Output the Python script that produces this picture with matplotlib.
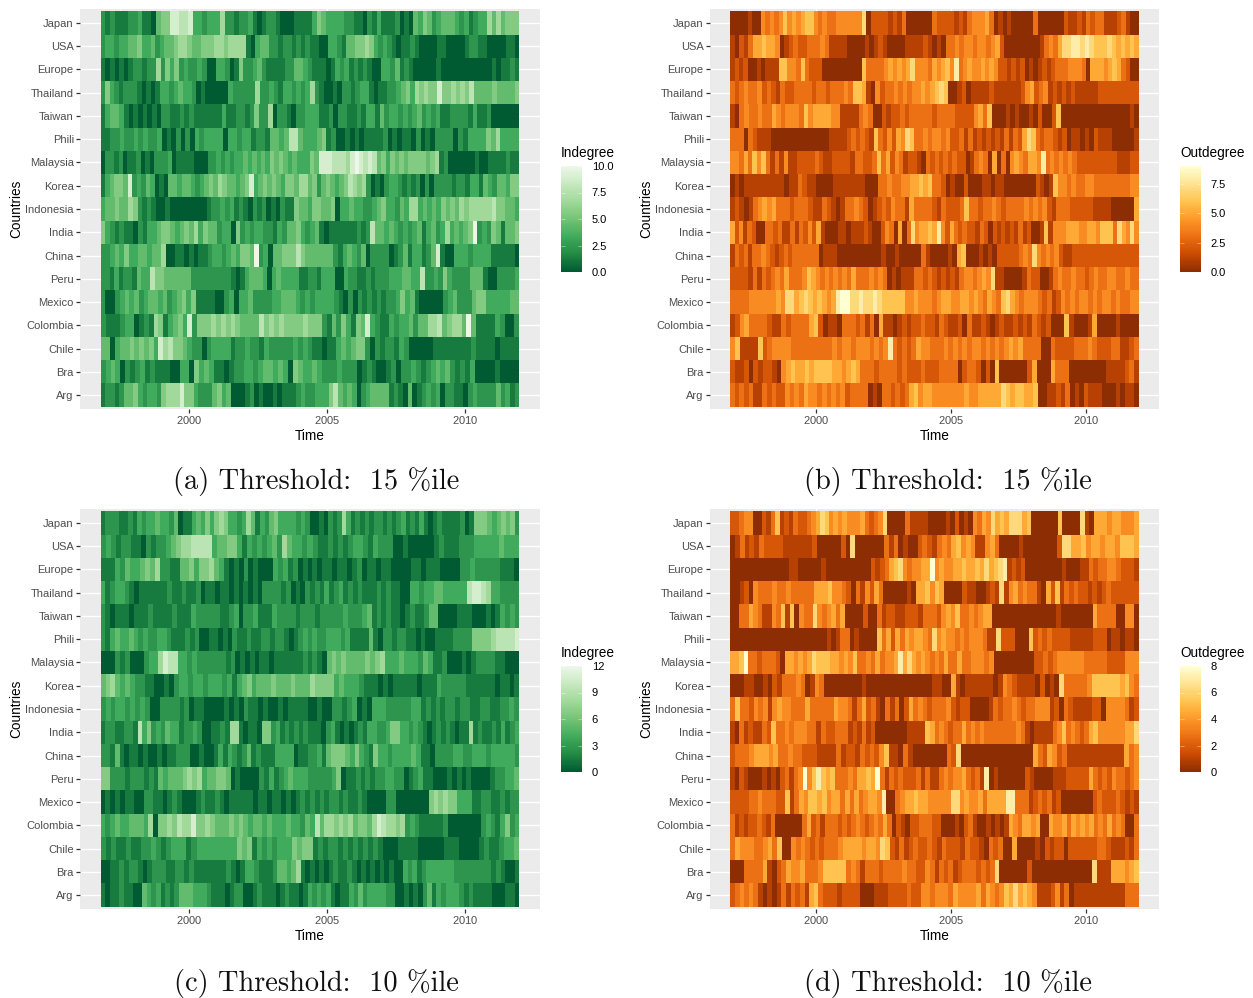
# filename: plot.py

import numpy as np
import matplotlib
matplotlib.use('Agg')
import matplotlib.pyplot as plt
from matplotlib.colors import LinearSegmentedColormap

plt.rcParams['font.family'] = ['Liberation Sans', 'DejaVu Sans']
plt.rcParams['axes.formatter.use_mathtext'] = True

countries = ['Arg', 'Bra', 'Chile', 'Colombia', 'Mexico', 'Peru', 'China', 'India', 'Indonesia',
             'Korea', 'Malaysia', 'Phili', 'Taiwan', 'Thailand', 'Europe', 'USA', 'Japan']
years = [2000, 2005, 2010]
minor_years = [1997.5, 2002.5, 2007.5, 2012.5]

# Each row runs from Japan (top) to Arg (bottom), one digit for about every two months.
# A digit is a shade: 0 is the bottom of the legend, 9 the top.
indegree_15 = [
    "2121112231104558877833233362212231012210001111" "354333322110213111201043542344432312336464555",
    "23323344533423445665445556656666103442212212121" "100332144556532321011210000110000122110000110",
    "1010101221226253523223200332015223421111224432 11" "101323121210033241210000010000000000010112 1",
    "253212221010133234332010000032222262232133232362" "100102212331011223453656558556565744445444 45",
    "134431010101022112121111113112212522602210223 3" "3112022112133142332323423231122221311 2000000",
    "1122322323223010202032333 30332331221443477433" "34512001010111120101102010222202133335463333",
    "0 2212 0112 010 2223 01 111 000 2232 323 3434 343 54543 43335" "4 88877768 9 87 87 45354 54555 545 6 120 00000 100 11112 11",
    "13 4554 8 232 43 010 44344 323 45465 44345 8 34 5454 3554664" "52 454345 7656 20102 332 1212 020 2222 1221 3314 32443 55",
    "34454465 2121 001 00000000 122 323 1210 212010 211 5443" "55445 0 3343 3223 453 3243 66 34 34354 54656 6666 7554 43",
    "53 2121 102 133 4554 34546 35 44 2330 52 32332 2132 44532 34" "1011 1111 212 7 44343 2323 41 34 2363 4345 9 232 541 445",
    "223 43 533 443446 00 11 010 11 2332 343 554 9 23 0 44555 7544" "4444 213 43 24 0 2222 01 2413 3124 8 100 3332 3333 11111 0",
    "2213 1221 433 7 554 44444 2222 222 22101 34443 0 3433 33 1" "1 2213 33 00 32211 21 2223 334433 7 2232 5 3 2222 444 100 2222 3",
    "2 00 23 43 423 44 3423 4535 1111 00 230 334 2222 33444 3232" "3 333 2102 021 212 1223 534 1 0000 02 34222 4553 3333 44",
    "21 11 233 01 21 65 13 453 8 25 556 565 65 4444 7 5656 5555 655" "5 21 42 5 31 54 8 32 1132 3342 44 667 45664 9 4 1111 32 00 2",
    "44 0 34 454 5453 8 67 554 3220 233 33 122 32 213 22222 323" "21 1 011 3434 55 20 212 2132 000001 11111 112 1111 0 1111",
    "23 43 0212 312 1110 0330 5 343 11 01 223 323 44343 0543" "343 2223 222 01 21 00 12 0 223 2123 4342 121 3 0 000 1 0000",
    "12212 4453 2332 5666 8 55 3222 453 40 001 2010010 1112 32" "233 35 7 4343 02 34444 1210 4 012 32302 211 02 3 2222 42 312",
]
outdegree_15 = [
    "0000 100 43434 6 4545 66 434 3344 4444 7 0 2222 1213 000000 32222 1213 4445 30 101 00000 3 000000 2 1121 3233 1112 3100",
    "10213 556554 01 232233 343 1111 0000 101 21 0000 1111 21010 33434434434 52 00000000 1 3435 7788787666 7656565",
    "12120 010111 66 443 63 222 00000000 0 6 3333 454545 7 4443 54564 8 34544 5454 2212 12010 1212 3334 443 0 5554565 3200",
    "323433 4232132 2333323 32333 43 665 10 42 3343434 4545676 00 1201 1112 1111 112 45 234 121212 11111 222222222",
    "10 343 3433 5 434443 6455 5544 1111 343 00 21 223233 333233332222 4536 00 010100 10 2 00 2 6 0000000 00000000 10",
    "333 0 32 111 0000000000000 1111 232321 6 3242 54 76 33434434 223 1312 12121 3132 576 3233 21201 10102 111 00000 1",
    "443 53646 31314 1122 22321 122221 33223 635 2431221 0323 232322 01 34305 030 4543554 8 3434343 2222 22222 11122",
    "010 11 1111111 011 32 110 000 1111111 000 3343344 556563 3201 002 000 110110 000000 21016 4434 3344 3333333344",
    "12101 34545 333 2333 21132101 33432 01 232433 1533332 132223 6 33233 43233 33434342 1333 22222 1111 00000 5",
    "524132 00 33231 1313242 51 000 1101 1121 00 2430 503 745565 8 42 53 2322132 02121 21312 001 61 44455544 554 666 375474",
    "13231 33432 1232 333333 0111 0000 00000 0100100000 31 000010 56 000 1010 22 222 343 7 43434 211 222222222222222",
    "2222 13132 343 53334 654 34343 4353 334343 0101 11 33232 121213 443454 7 11 0000 1322 00 1343 34332 34334433433",
    "3333 44444454 77 56765 6545 899 7787787 66666 445444 34 554455 4543543 67 543444 32312 434344343 44343344",
    "1245 33332 11 323333 562 0110 3332 3130 5 110121 2232 213211 2031121 012112 1213212 000 6 10 001 5 0000 10000",
    "46 1111 623 444433333333343 4434443434 8 32323 544 33343 43434434 34345 453333 00 32222 33343 222 331123",
    "2112 021 2210 45 6556 56666 554 565 33323 3332 32223 222 3333 0 2332 020 6 000000 25 000 5333 00000 000 1111231",
    "32323 113 2322 4343 544 343434 23333 010 332323 56455 444444 45445 5555 76566556 00 112130 102 111000 10110",
]
indegree_10 = [
    "122211 2132 3343324 0113 4353 5653 3236 4132453 333232 00 10212 63 121212 21212 312131 01 2111 1201 5554 345452",
    "2321 2211 0 21223 4566 7777 34455 3132 32342 643323 2112 12123 3213 222 00100000 12111 222 33333 4333",
    "111 32433 45462 211 44535564 31 0102 0 1000 3231 2010101 1011012 0110110 0001101 110000 223 22222 1110",
    "31 23321 011111 12112112 011011 0101010 222212 01021213 123121 211121211 00 33233 443 3333 78876 332222",
    "2101 11011 1211112111 322222 1123 02231 11 322221 2221 2222232223 4 12121 10121 1244 0 000 111 000 1013232",
    "213 43343 2322332 111212 0011 010211 211221 2210 123232 233323 111 1410 2212211 01001 11122 22 5555 677778",
    "000 2120 00 233 68 77 332322 2222 1201 010110 11111 121210 454544 445456 3334333 2431 1200 0101 222211 000",
    "45 64 343 2211 0010 2332332 33323 1345 344454 445444 65555 34333 21 11010 1111101 11 322222 111111 01101",
    "232332 3232 00 222212 011 000 010 102 11010 0101 1110 0100 22123 010 33322 22233 1212122 1221122 112232",
    "1221 1221 7 35 2324 3312232 0011 21 66 10110 55 2312 1212 111023 1010121 33223 55 33232 1012 121011 6 121121 3123",
    "221 41 01101 001 011222 0010 0131 32 124 12111 3333 011223 14 555435 3215 332333343 110 22223322 3332333332",
    "55 2221 222121 43444 5656 344554 010000 213 1234 3332 2222 35 01 121 2122 3322 0123 11 00 010101 0000 122334",
    "010 101 100 22 110121 000 12112 1011 111 011011 010 1212121 22 121121 0000 22 0000000 565655 333 1122112122",
    "323 4334 4436 0 55657668 5565 4445454 344343 33433 243 746656 564 554 6876 656 2321 11112 0000000 23213 523",
    "2121 12112 23212 333 12 333333 33 545 1323 233 35455 12122 12121 2121 000 1111 000 00 111 0000 121 12 334",
    "001 1212 2101 22211 221211 11111 210 13321 112 44346 101010 121121 01010101 00 3231233 33332222 2222 121001",
    "101 12110 0 4323 1212 4443 332 11101 22 001 21110 121101 32323 1011 32423 33322 0010 102413 2333212 1111 000110",
]
outdegree_10 = [
    "22344 00 2136 121 322 345 76 4545 4445 32347 0000 31111 0000 102 010 4354 7565 77756 000000 6 0000 7 10 5554554445",
    "01 31213 2222 11 111 12 00000 2 0 7 000000 313 0100 23213 43 56454 11 453 0000 10000000 2 7755 64554554 6665",
    "0000000000000 11 00000 1 000 0000000 2123 5674 34455 9 4544 55655 657567 8 1212 00000000 1 000 113 233 44 32221",
    "00 12 0 43334 33433 333 5556 4432 0 314253 00000 10 556465 0 000 211 00 121 7 14534 331 0526 1323 2212 12 3222222",
    "00 33543 114361 60 433 7 434535 0000 2 00 312211 222 133324 546 33434 55 00000000000000 1 0000000 53333 00 440",
    "00 0 000000000000000000 101 33 01 0000 635 253 54554 37 4544 3434443 11 7 222 000 62323 2222 11111 222 0110110",
    "556 9 3323 332 0 554545 7666 554546 334353 445 85 7545 4343 53353 344434 000000 000 22323 444444 33333 2222 444",
    "000 11 00 10 21 33343 01 4 3 00000000 1 00 000000000000 11 00 5 1011 111101 4321 111 02010 733 3334 6666665 643",
    "36 33 24 341 4544 333 53 3333 5443 1352 310 313 02 53432 3334 2122 0000 1 32334 3233444 120 32 1111 220 4444 312",
    "10312 1132 6 33434 4433 1322 3331 21312 00 00000 1111 65 343233 534343 33333343 10 1111 34634323 56444444557",
    "23 3345 55453 3433 222 1111 31221 323246 1103 10 000000 327 00 0000000000000 5325423 111111111111 534",
    "10 21 000 1 010 23134 9 46865 6333 4355659 31323 2223 1311 3434453 231 8 01 000000 21 0000 11122222 53232433234",
    "2222 33433322 61 3546656 45535 3534554 8 00 3455 655 44444 77 45445 35555 88 3331 232312 0000 000 2322232121",
    "31212 23213 0 00000 352313 33232 3432343 530 210 2233322 00010 2310 010101 5435545 00 54453 54545 3435343 00 3",
    "35 444 33453 6 00 43432 323334 5555 455476 21312 32232 132221 32210 323 00 5 0000 102122 0 222222 332 111 213",
    "000 33335 102 35445 3334 66666 34313 33233 3343322 431323 123 3323237 000000 2 0000000000000 7 111 555456",
    "23 4343 10101 313231 563 2221 2222 000 111 2222322 443444354 444535434 6575654 1112 4130 1111 1111111 333",
]

greens = LinearSegmentedColormap.from_list('greens', ['#005A32', '#238B45', '#41AB5D', '#74C476', '#A1D99B', '#C7E9C0', '#EDF8E9'])
oranges = LinearSegmentedColormap.from_list('oranges', ['#8C2D04', '#CC4C02', '#EC7014', '#FE9929', '#FEC44F', '#FEE391', '#FFFFD4'])

W, H = 1253, 998
fig = plt.figure(figsize=(W / 100, H / 100), dpi=100)


def px_axes(x0, y0, x1, y1):
    return fig.add_axes([x0 / W, 1 - y1 / H, (x1 - x0) / W, (y1 - y0) / H])


def px_text(x, y, s, **kw):
    fig.text(x / W, 1 - y / H, s, **kw)


def draw_panel(rows, vmax, cmap, x0, x1, y0, bar_x, title, ticks, tick_labels, caption):
    ax = px_axes(x0, y0 + 9, x1, y0 + 409)
    ax.set_facecolor('#EBEBEB')
    for i, row in enumerate(rows[::-1]):
        vals = np.array([int(c) for c in row.replace(' ', '')]) / 9 * vmax
        edges = np.linspace(1996.81, 2011.96, len(vals) + 1)
        ax.pcolormesh(edges, [i - 0.5, i + 0.5], vals[np.newaxis, :], cmap=cmap, vmin=0, vmax=vmax, zorder=3)
    ax.set_xlim(1996.06, 2012.71)
    ax.set_ylim(-0.6, 16.6)
    ax.set_xticks(years)
    ax.set_xticks(minor_years[:-1], minor=True)
    ax.set_yticks(range(len(countries)))
    ax.set_yticklabels(countries, va='center_baseline')
    ax.grid(True, which='major', color='white', lw=1.0, zorder=1)
    ax.grid(True, which='minor', axis='x', color='white', lw=0.5, zorder=1)
    ax.set_axisbelow(True)
    ax.tick_params(which='major', length=3, width=0.9, color='#333333', labelcolor='#4D4D4D', labelsize=8.0)
    ax.tick_params(axis='x', which='major', pad=0.8)
    ax.tick_params(axis='y', which='major', pad=1.5)
    ax.tick_params(which='minor', length=0)
    for s in ax.spines.values():
        s.set_visible(False)
    # axis titles, placed by hand to sit where ggplot put them
    px_text((x0 + x1) / 2, y0 + 435.5, 'Time', ha='center', va='center', fontsize=9.8)
    px_text(x0 - 63.5, y0 + 209, 'Countries', ha='center', va='center', rotation=90, fontsize=9.8)
    px_text((x0 + x1) / 2 + 6 if x0 < 500 else (x0 + x1) / 2 + 13, y0 + 482 + (1 if y0 > 0 else 0), caption,
            ha='center', va='center', fontsize=20.4, family='cmr10', color='#111111')

    # colour bar legend
    cax = px_axes(bar_x, y0 + 166, bar_x + 21, y0 + 272)
    cax.imshow(np.linspace(vmax, 0, 100)[:, np.newaxis], aspect='auto', cmap=cmap, vmin=0, vmax=vmax,
               extent=[0, 1, 0, vmax], interpolation='nearest')
    cax.hlines(ticks, 0, 0.2, color='white', lw=0.4, alpha=0.7)
    cax.hlines(ticks, 0.8, 1, color='white', lw=0.4, alpha=0.7)
    cax.set_xticks([])
    cax.yaxis.tick_right()
    cax.set_yticks(ticks)
    cax.set_yticklabels(tick_labels)
    cax.tick_params(axis='y', length=0, labelsize=8.0, pad=7)
    for s in cax.spines.values():
        s.set_visible(False)
    px_text(bar_x, y0 + 153, title, ha='left', va='center', fontsize=9.8)


draw_panel(indegree_15, 10, greens, 80, 540, 0, 561, 'Indegree',
           [0, 2.5, 5, 7.5, 10], ['0.0', '2.5', '5.0', '7.5', '10.0'], '(a) Threshold:  15 %ile')
draw_panel(outdegree_15, 9, oranges, 710, 1159, 0, 1180, 'Outdegree',
           [0, 2.5, 5, 7.5], ['0.0', '2.5', '5.0', '7.5'], '(b) Threshold:  15 %ile')
draw_panel(indegree_10, 12, greens, 80, 540, 500, 561, 'Indegree',
           [0, 3, 6, 9, 12], ['0', '3', '6', '9', '12'], '(c) Threshold:  10 %ile')
draw_panel(outdegree_10, 8, oranges, 710, 1159, 500, 1180, 'Outdegree',
           [0, 2, 4, 6, 8], ['0', '2', '4', '6', '8'], '(d) Threshold:  10 %ile')

plt.savefig('out.png', dpi=100)
print("Visualizing data and saving the plot is completed.")
